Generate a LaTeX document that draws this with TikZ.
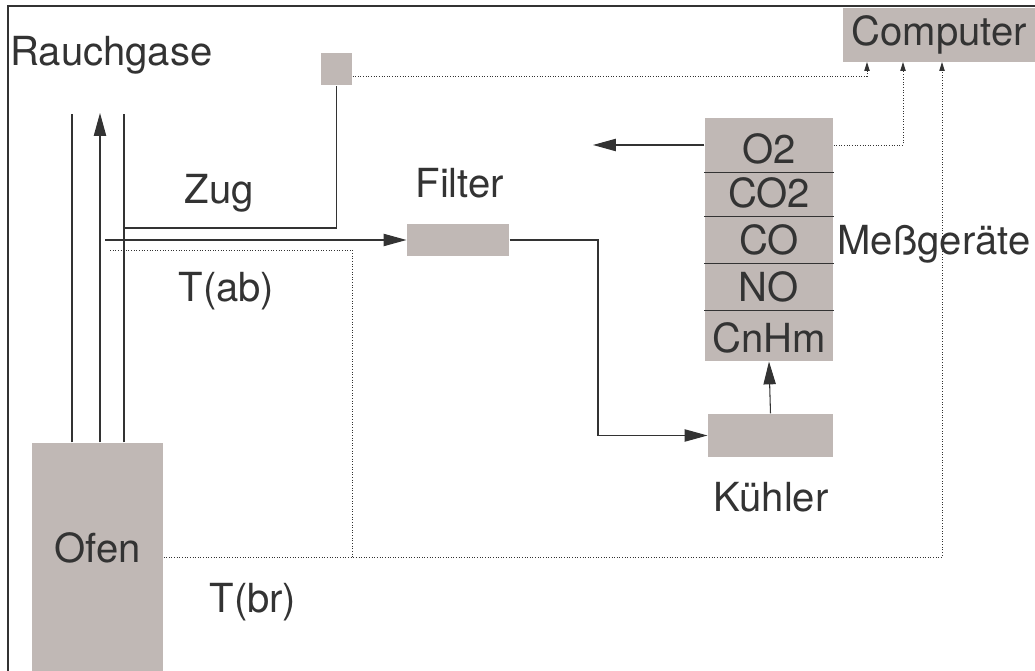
\documentclass[tikz,border=0pt]{standalone}
\usepackage{fontspec}
\setmainfont{TeX Gyre Heros}
\usetikzlibrary{arrows.meta}
\usepackage{xcolor}
\definecolor{boxgray}{RGB}{192,184,181}
\definecolor{ink}{RGB}{51,51,51}

\begin{document}
\begin{tikzpicture}[x=0.02cm,y=-0.02cm,>={Triangle[length=13pt,width=7pt]},
  font=\fontsize{22.8}{27}\selectfont,color=ink,line width=0.6pt,
  box/.style={fill=boxgray,inner sep=0pt,text=ink},
  row/.style={box,minimum width=2.56cm,text depth=0.16cm},
  signal/.style={densely dotted,line width=0.5pt,-{Triangle[length=5pt,width=3pt]}},
  lbl/.style={anchor=base west,inner sep=0pt}]
\useasboundingbox (0,0) rectangle (1035,671);
% Kaesten
\node[box,minimum width=3.84cm,minimum height=1.08cm] (computer) at (939,35) {Computer};
\node[box,minimum width=0.62cm,minimum height=0.64cm] (sensor) at (336.5,69) {};
\node[box,minimum width=2.62cm,minimum height=4.56cm,text height=2.4cm,text depth=2.16cm] (ofen) at (97.5,557) {Ofen};
\node[box,minimum width=2.04cm,minimum height=0.64cm] (filter) at (458,240) {};
\node[box,minimum width=2.5cm,minimum height=0.86cm] (kuehler) at (770.5,435.5) {};
\node[row,minimum height=1.08cm,text height=0.92cm] (o2) at (769,145) {O2};
\node[row,minimum height=0.88cm,text height=0.72cm] (co2) at (769,194) {CO2};
\node[row,minimum height=0.94cm,text height=0.78cm] (co) at (769,239.5) {CO};
\node[row,minimum height=0.94cm,text height=0.78cm] (no) at (769,286.5) {NO};
\node[row,minimum height=1.02cm,text height=0.86cm] (cnhm) at (769,335.5) {CnHm};
\foreach \r in {o2,co2,co,no}
  \draw (\r.south west) -- (\r.south east);
% Rahmen
\draw[line width=1.2pt] (8,671) -- (8,6) -- (1035,6);
% Beschriftungen
\node[lbl] (rauch) at (10,66) {Rauchgase};
\node[lbl] (zuglbl) at (184,204) {Zug};
\node[lbl] (filterlbl) at (415,198) {Filter};
\node[lbl] (tablbl) at (178,302) {T(ab)};
\node[lbl] (tbrlbl) at (209,613) {T(br)};
\node[lbl] (messlbl) at (837,255) {Me\ss ger\"ate};
\node[lbl] (kuehllbl) at (713,512) {K\"uhler};
% Kamin
\coordinate (kl) at (72,114);
\coordinate (km) at (100,113);
\coordinate (kr) at (124,114);
\draw (kl |- ofen.north) -- (kl);
\draw (kr |- ofen.north) -- (kr);
\draw[->] (km |- ofen.north) -- (km);
% Gasweg
\coordinate (zugab) at (124,228);
\coordinate (gasab) at (105,240);
\coordinate (knick) at (598,240);
\coordinate (abgas) at (593,145);
\draw (zugab) -| (sensor.south);
\draw[->] (gasab) -- (filter.west);
\draw[->] (filter.east) -- (knick) |- (kuehler.west);
\draw[->] (kuehler.north) -- (cnhm.south);
\draw[->] (o2.west) -- (abgas);
% Messleitungen
\coordinate (c1) at (867,62);
\coordinate (c2) at (903,62);
\coordinate (c3) at (942,62);
\coordinate (tab) at (110,250);
\coordinate (tabknick) at (352,250);
\draw[signal] ([yshift=-4pt]sensor.east) -| (c1);
\draw[signal] (o2.east) -| (c2);
\draw[signal] (ofen.east) -| (c3);
\draw[densely dotted,line width=0.5pt] (tab) -- (tabknick) -- (tabknick |- ofen.east);
\end{tikzpicture}
\end{document}
